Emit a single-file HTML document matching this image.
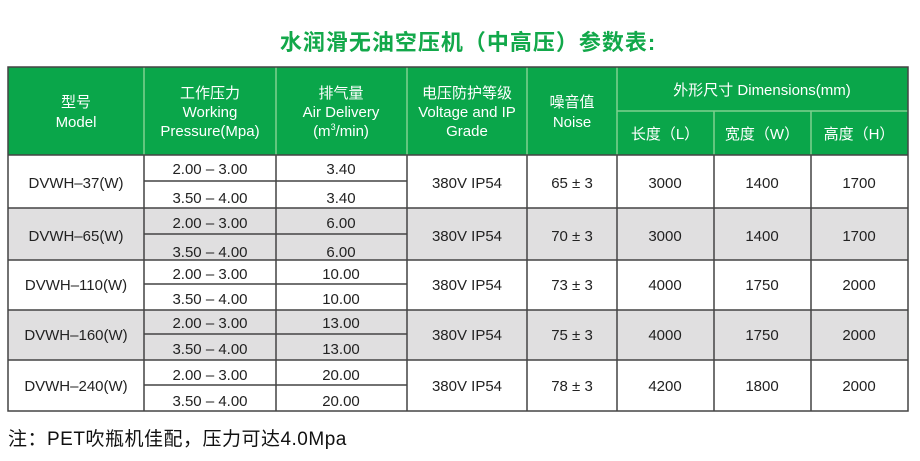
<!DOCTYPE html>
<html><head><meta charset="utf-8"><style>
html,body{margin:0;padding:0;background:#fff;width:920px;height:461px;overflow:hidden}
svg text{font-family:"Liberation Sans","Noto Sans CJK SC",sans-serif}
</style></head><body>
<svg width="920" height="461" viewBox="0 0 920 461" xmlns="http://www.w3.org/2000/svg">
<text x="468" y="50" text-anchor="middle" font-size="22" font-weight="bold" fill="#12a84a" letter-spacing="1">水润滑无油空压机（中高压）参数表:</text>
<rect x="8" y="67" width="900" height="88" fill="#0aa64a"/>
<rect x="8" y="208" width="900" height="52" fill="#e0dfe0"/>
<rect x="8" y="310" width="900" height="50" fill="#e0dfe0"/>
<g stroke="#7fd08f" stroke-width="1.5">
<line x1="144" y1="67" x2="144" y2="155"/><line x1="276" y1="67" x2="276" y2="155"/>
<line x1="407" y1="67" x2="407" y2="155"/><line x1="527" y1="67" x2="527" y2="155"/>
<line x1="617" y1="67" x2="617" y2="155"/><line x1="714" y1="111" x2="714" y2="155"/>
<line x1="811" y1="111" x2="811" y2="155"/><line x1="617" y1="111" x2="908" y2="111"/>
</g>
<g stroke="#444" stroke-width="1.5" fill="none">
<rect x="8" y="67" width="900" height="344"/>
<line x1="8" y1="155" x2="908" y2="155"/>
<line x1="8" y1="208" x2="908" y2="208"/>
<line x1="8" y1="260" x2="908" y2="260"/>
<line x1="8" y1="310" x2="908" y2="310"/>
<line x1="8" y1="360" x2="908" y2="360"/>
<line x1="144" y1="181" x2="407" y2="181"/>
<line x1="144" y1="234" x2="407" y2="234"/>
<line x1="144" y1="284" x2="407" y2="284"/>
<line x1="144" y1="334" x2="407" y2="334"/>
<line x1="144" y1="385" x2="407" y2="385"/>
<line x1="144" y1="155" x2="144" y2="411"/><line x1="276" y1="155" x2="276" y2="411"/>
<line x1="407" y1="155" x2="407" y2="411"/><line x1="527" y1="155" x2="527" y2="411"/>
<line x1="617" y1="155" x2="617" y2="411"/><line x1="714" y1="155" x2="714" y2="411"/>
<line x1="811" y1="155" x2="811" y2="411"/>
</g>
<g fill="#fff" font-size="15" text-anchor="middle">
<text x="76" y="107">型号</text><text x="76" y="127">Model</text>
<text x="210" y="98">工作压力</text><text x="210" y="117">Working</text><text x="210" y="136">Pressure(Mpa)</text>
<text x="341" y="98">排气量</text><text x="341" y="117">Air Delivery</text><text x="341" y="136">(m<tspan font-size="9" dy="-6">3</tspan><tspan dy="6">/min)</tspan></text>
<text x="467" y="98">电压防护等级</text><text x="467" y="117">Voltage and IP</text><text x="467" y="136">Grade</text>
<text x="572" y="107">噪音值</text><text x="572" y="127">Noise</text>
<text x="762" y="95">外形尺寸 Dimensions(mm)</text>
<text x="665" y="139">长度（L）</text><text x="762" y="139">宽度（W）</text><text x="859" y="139">高度（H）</text>
</g>
<g fill="#222" font-size="15" text-anchor="middle">
<text x="76" y="188">DVWH–37(W)</text><text x="76" y="241">DVWH–65(W)</text>
<text x="76" y="290">DVWH–110(W)</text><text x="76" y="340">DVWH–160(W)</text><text x="76" y="391">DVWH–240(W)</text>
<text x="210" y="174">2.00 – 3.00</text><text x="210" y="203">3.50 – 4.00</text>
<text x="210" y="228">2.00 – 3.00</text><text x="210" y="257">3.50 – 4.00</text>
<text x="210" y="279">2.00 – 3.00</text><text x="210" y="304">3.50 – 4.00</text>
<text x="210" y="328">2.00 – 3.00</text><text x="210" y="354">3.50 – 4.00</text>
<text x="210" y="380">2.00 – 3.00</text><text x="210" y="406">3.50 – 4.00</text>
<text x="341" y="174">3.40</text><text x="341" y="203">3.40</text>
<text x="341" y="228">6.00</text><text x="341" y="257">6.00</text>
<text x="341" y="279">10.00</text><text x="341" y="304">10.00</text>
<text x="341" y="328">13.00</text><text x="341" y="354">13.00</text>
<text x="341" y="380">20.00</text><text x="341" y="406">20.00</text>
<text x="467" y="188">380V IP54</text><text x="467" y="241">380V IP54</text><text x="467" y="290">380V IP54</text><text x="467" y="340">380V IP54</text><text x="467" y="391">380V IP54</text>
<text x="572" y="188">65 ± 3</text><text x="572" y="241">70 ± 3</text><text x="572" y="290">73 ± 3</text><text x="572" y="340">75 ± 3</text><text x="572" y="391">78 ± 3</text>
<text x="665" y="188">3000</text><text x="665" y="241">3000</text><text x="665" y="290">4000</text><text x="665" y="340">4000</text><text x="665" y="391">4200</text>
<text x="762" y="188">1400</text><text x="762" y="241">1400</text><text x="762" y="290">1750</text><text x="762" y="340">1750</text><text x="762" y="391">1800</text>
<text x="859" y="188">1700</text><text x="859" y="241">1700</text><text x="859" y="290">2000</text><text x="859" y="340">2000</text><text x="859" y="391">2000</text>
</g>
<text x="8" y="445" font-size="19" fill="#111" letter-spacing="0.5">注：PET吹瓶机佳配，压力可达4.0Mpa</text>
</svg>
</body></html>
